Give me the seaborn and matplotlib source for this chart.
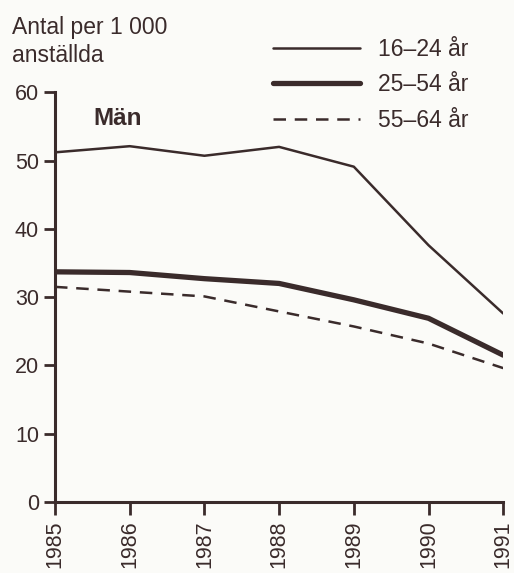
import pandas as pd
import matplotlib.pyplot as plt
import seaborn as sns

years = [1985, 1986, 1987, 1988, 1989, 1990, 1991]
ung = [51.2, 52.1, 50.7, 52.0, 49.1, 37.6, 27.6]      # 16-24 år
mellan = [33.7, 33.6, 32.7, 32.0, 29.6, 26.9, 21.5]   # 25-54 år
aldre = [31.5, 30.8, 30.1, 27.9, 25.7, 23.2, 19.6]    # 55-64 år
labels = ['16–24 år', '25–54 år', '55–64 år']
yticks = [0, 10, 20, 30, 40, 50, 60]

ink = '#3a2b2b'
sns.set_style('ticks')
plt.rcParams['font.family'] = ['Liberation Sans', 'DejaVu Sans']
plt.rcParams['text.color'] = ink

fig = plt.figure(figsize=(5.14, 5.73), dpi=100, facecolor='#fbfbf8')
ax = fig.add_axes([0.107, 0.124, 0.872, 0.715])
ax.set_facecolor('#fbfbf8')

sns.lineplot(x=years, y=ung, ax=ax, color=ink, lw=1.8, label=labels[0])
sns.lineplot(x=years, y=mellan, ax=ax, color=ink, lw=3.8, label=labels[1])
sns.lineplot(x=years, y=aldre, ax=ax, color=ink, lw=1.8, ls=(0, (5, 3.5)), label=labels[2])

ax.set_xlim(1985, 1991)
ax.set_ylim(0, 60)
ax.set_yticks(yticks)
ax.set_xticks(years)
ax.set_xticklabels([str(y) for y in years], rotation=90)
ax.tick_params(axis='both', colors=ink, labelsize=15.5, width=2, length=8, labelcolor=ink)
ax.tick_params(axis='x', length=9, pad=4)
for s in ['top', 'right']:
    ax.spines[s].set_visible(False)
for s in ['left', 'bottom']:
    ax.spines[s].set_color(ink)
    ax.spines[s].set_linewidth(2.2)
ax.set_xlabel('')
ax.set_ylabel('')

ax.text(1985.52, 55.2, 'Män', fontsize=17.5, fontweight='bold', color=ink)
fig.text(0.023, 0.972, 'Antal per 1 000\nanställda', fontsize=16.5, color=ink,
         va='top', linespacing=1.25)

leg = ax.legend(loc='upper left', bbox_to_anchor=(0.491, 0.970), bbox_transform=fig.transFigure,
                frameon=False, fontsize=16.5, handlelength=3.8, handletextpad=0.8,
                labelspacing=0.55)
for t in leg.get_texts():
    t.set_color(ink)

fig.savefig('out.png', dpi=100, facecolor=fig.get_facecolor())
